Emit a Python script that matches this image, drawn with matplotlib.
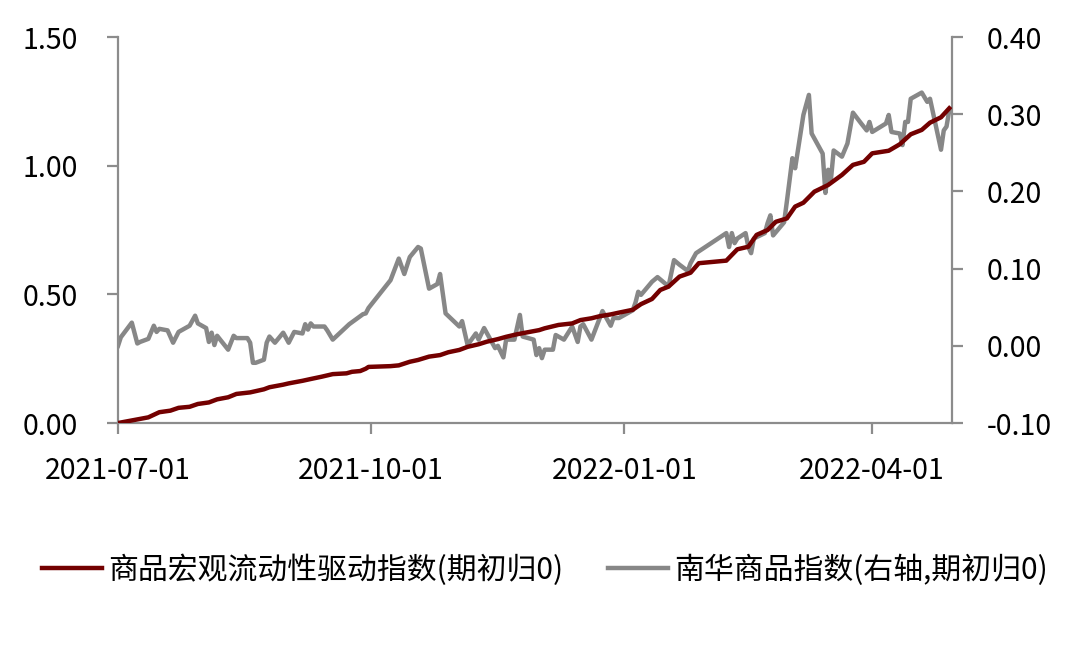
import pandas as pd
import numpy as np
import matplotlib
matplotlib.use("Agg")
import matplotlib.pyplot as plt
import matplotlib.dates as mdates
from matplotlib.ticker import FormatStrFormatter

plt.rcParams['font.family'] = ['Noto Sans CJK SC', 'DejaVu Sans']
plt.rcParams['axes.unicode_minus'] = False

#%% data

# 商品宏观流动性驱动指数 (left axis)
macro_dates = ["2021-07-01", "2021-07-07", "2021-07-12", "2021-07-16", "2021-07-20", "2021-07-23",
               "2021-07-27", "2021-07-30", "2021-08-03", "2021-08-06", "2021-08-10", "2021-08-13",
               "2021-08-18", "2021-08-23", "2021-08-25", "2021-08-30", "2021-09-01", "2021-09-06",
               "2021-09-09", "2021-09-13", "2021-09-17", "2021-09-22", "2021-09-24", "2021-09-27",
               "2021-09-29", "2021-09-30", "2021-10-08", "2021-10-11", "2021-10-15", "2021-10-18",
               "2021-10-22", "2021-10-26", "2021-10-29", "2021-11-02", "2021-11-05", "2021-11-09",
               "2021-11-12", "2021-11-16", "2021-11-19", "2021-11-23", "2021-11-26", "2021-12-01",
               "2021-12-03", "2021-12-08", "2021-12-13", "2021-12-16", "2021-12-20", "2021-12-23",
               "2021-12-27", "2021-12-30", "2022-01-04", "2022-01-07", "2022-01-11", "2022-01-14",
               "2022-01-17", "2022-01-21", "2022-01-25", "2022-01-28", "2022-02-07", "2022-02-11",
               "2022-02-15", "2022-02-18", "2022-02-22", "2022-02-25", "2022-03-01", "2022-03-04",
               "2022-03-07", "2022-03-11", "2022-03-16", "2022-03-21", "2022-03-25", "2022-03-29",
               "2022-04-01", "2022-04-07", "2022-04-11", "2022-04-15", "2022-04-19", "2022-04-22",
               "2022-04-26", "2022-04-29"]
macro_vals = [0.000, 0.012, 0.022, 0.042, 0.048, 0.059,
              0.063, 0.074, 0.080, 0.092, 0.100, 0.113,
              0.119, 0.131, 0.139, 0.149, 0.154, 0.164,
              0.171, 0.180, 0.190, 0.193, 0.199, 0.202,
              0.211, 0.218, 0.221, 0.224, 0.238, 0.245,
              0.258, 0.264, 0.275, 0.284, 0.296, 0.306,
              0.316, 0.326, 0.335, 0.345, 0.351, 0.361,
              0.368, 0.381, 0.387, 0.400, 0.407, 0.415,
              0.422, 0.429, 0.440, 0.462, 0.482, 0.517,
              0.530, 0.569, 0.584, 0.621, 0.631, 0.675,
              0.685, 0.731, 0.750, 0.782, 0.795, 0.841,
              0.856, 0.899, 0.925, 0.964, 1.003, 1.015,
              1.048, 1.058, 1.083, 1.122, 1.139, 1.167,
              1.188, 1.223]

# 南华商品指数 (right axis)
nanhua_dates = ["2021-07-01", "2021-07-02", "2021-07-06", "2021-07-08", "2021-07-09", "2021-07-12",
                "2021-07-14", "2021-07-15", "2021-07-16", "2021-07-19", "2021-07-21", "2021-07-23",
                "2021-07-27", "2021-07-29", "2021-07-30", "2021-08-02", "2021-08-03", "2021-08-04",
                "2021-08-05", "2021-08-06", "2021-08-10", "2021-08-12", "2021-08-13", "2021-08-17",
                "2021-08-18", "2021-08-19", "2021-08-20", "2021-08-23", "2021-08-24", "2021-08-25",
                "2021-08-27", "2021-08-30", "2021-09-01", "2021-09-03", "2021-09-06", "2021-09-07",
                "2021-09-08", "2021-09-09", "2021-09-10", "2021-09-14", "2021-09-15", "2021-09-17",
                "2021-09-23", "2021-09-28", "2021-09-29", "2021-09-30", "2021-10-08", "2021-10-11",
                "2021-10-13", "2021-10-15", "2021-10-18", "2021-10-19", "2021-10-22", "2021-10-25",
                "2021-10-26", "2021-10-28", "2021-11-02", "2021-11-03", "2021-11-05", "2021-11-08",
                "2021-11-09", "2021-11-11", "2021-11-15", "2021-11-16", "2021-11-18", "2021-11-19",
                "2021-11-22", "2021-11-24", "2021-11-25", "2021-11-29", "2021-11-30", "2021-12-01",
                "2021-12-02", "2021-12-03", "2021-12-06", "2021-12-07", "2021-12-10", "2021-12-13",
                "2021-12-15", "2021-12-16", "2021-12-17", "2021-12-20", "2021-12-24", "2021-12-27",
                "2021-12-28", "2021-12-30", "2022-01-04", "2022-01-05", "2022-01-06", "2022-01-07",
                "2022-01-11", "2022-01-13", "2022-01-17", "2022-01-19", "2022-01-21", "2022-01-24",
                "2022-01-25", "2022-01-27", "2022-02-07", "2022-02-08", "2022-02-09", "2022-02-10",
                "2022-02-11", "2022-02-14", "2022-02-15", "2022-02-16", "2022-02-17", "2022-02-21",
                "2022-02-22", "2022-02-23", "2022-02-24", "2022-02-28", "2022-03-01", "2022-03-03",
                "2022-03-04", "2022-03-07", "2022-03-09", "2022-03-10", "2022-03-14", "2022-03-15",
                "2022-03-16", "2022-03-17", "2022-03-18", "2022-03-21", "2022-03-23", "2022-03-25",
                "2022-03-28", "2022-03-30", "2022-03-31", "2022-04-01", "2022-04-06", "2022-04-07",
                "2022-04-08", "2022-04-11", "2022-04-12", "2022-04-13", "2022-04-14", "2022-04-15",
                "2022-04-19", "2022-04-21", "2022-04-22", "2022-04-26", "2022-04-27", "2022-04-28",
                "2022-04-29"]
nanhua_vals = [0.000, 0.011, 0.030, 0.003, 0.005, 0.009,
               0.026, 0.018, 0.022, 0.020, 0.004, 0.018,
               0.026, 0.039, 0.029, 0.023, 0.005, 0.017,
               0.001, 0.013, -0.005, 0.013, 0.010, 0.010,
               0.004, -0.022, -0.022, -0.018, 0.004, 0.012,
               0.004, 0.017, 0.004, 0.018, 0.016, 0.028,
               0.021, 0.029, 0.025, 0.025, 0.020, 0.008,
               0.028, 0.041, 0.042, 0.049, 0.085, 0.113,
               0.093, 0.115, 0.128, 0.126, 0.074, 0.080,
               0.093, 0.042, 0.025, 0.032, 0.001, 0.016,
               0.008, 0.023, -0.003, 0.000, -0.015, 0.008,
               0.008, 0.040, 0.012, 0.008, -0.012, -0.003,
               -0.016, -0.005, -0.005, 0.014, 0.008, 0.025,
               0.005, 0.025, 0.028, 0.008, 0.045, 0.026,
               0.036, 0.036, 0.046, 0.056, 0.070, 0.066,
               0.083, 0.089, 0.077, 0.111, 0.105, 0.097,
               0.107, 0.120, 0.146, 0.128, 0.146, 0.133,
               0.139, 0.146, 0.128, 0.120, 0.139, 0.146,
               0.159, 0.169, 0.143, 0.160, 0.187, 0.243,
               0.230, 0.299, 0.325, 0.275, 0.249, 0.198,
               0.228, 0.215, 0.253, 0.245, 0.262, 0.302,
               0.288, 0.279, 0.290, 0.277, 0.288, 0.299,
               0.277, 0.275, 0.260, 0.290, 0.290, 0.320,
               0.328, 0.316, 0.320, 0.254, 0.279, 0.284,
               0.305]

macro_label = "商品宏观流动性驱动指数(期初归0)"
nanhua_label = "南华商品指数(右轴,期初归0)"
xtick_dates = ["2021-07-01", "2021-10-01", "2022-01-01", "2022-04-01"]

#%% plot

spine_col = "#8c8c8c"
red = "#730000"
grey = "#878787"
fs = 20.5

fig = plt.figure(figsize=(10.8, 6.48), dpi=100)
ax = fig.add_axes([0.1093, 0.3472, 0.7722, 0.5957])
ax2 = ax.twinx()

l1, = ax.plot(pd.to_datetime(macro_dates), macro_vals, color=red, lw=3.2, label=macro_label, zorder=3)
l2, = ax2.plot(pd.to_datetime(nanhua_dates), nanhua_vals, color=grey, lw=3.2, label=nanhua_label)

# red line drawn above grey
ax.set_zorder(ax2.get_zorder() + 1)
ax.patch.set_visible(False)

ax.set_xlim(pd.Timestamp("2021-07-01"), pd.Timestamp("2022-04-30"))
ax.set_ylim(0, 1.5)
ax.set_yticks([0, 0.5, 1.0, 1.5])
ax.yaxis.set_major_formatter(FormatStrFormatter("%.2f"))
ax2.set_ylim(-0.1, 0.4)
ax2.set_yticks([-0.1, 0.0, 0.1, 0.2, 0.3, 0.4])
ax2.yaxis.set_major_formatter(FormatStrFormatter("%.2f"))

ax.set_xticks(pd.to_datetime(xtick_dates))
ax.xaxis.set_major_formatter(mdates.DateFormatter("%Y-%m-%d"))

for a in (ax, ax2):
    a.spines["top"].set_visible(False)
    for s in ("left", "right", "bottom"):
        a.spines[s].set_color(spine_col)
        a.spines[s].set_linewidth(1.6)
ax.spines["right"].set_visible(False)
ax2.spines["left"].set_visible(False)
ax2.spines["bottom"].set_visible(False)

ax.tick_params(axis="y", length=8, width=1.6, color=spine_col, labelsize=fs, pad=21)
ax.tick_params(axis="x", length=8, width=1.6, color=spine_col, labelsize=fs, pad=16)
ax2.tick_params(axis="y", length=8, width=1.6, color=spine_col, labelsize=fs, pad=17)

fig.legend(handles=[l1, l2], loc="center", bbox_to_anchor=(0.5046, 0.1204), ncol=2,
           frameon=False, fontsize=21.5, handlelength=2.0, handletextpad=0.2, columnspacing=1.5)

fig.savefig("out.png", dpi=100)
